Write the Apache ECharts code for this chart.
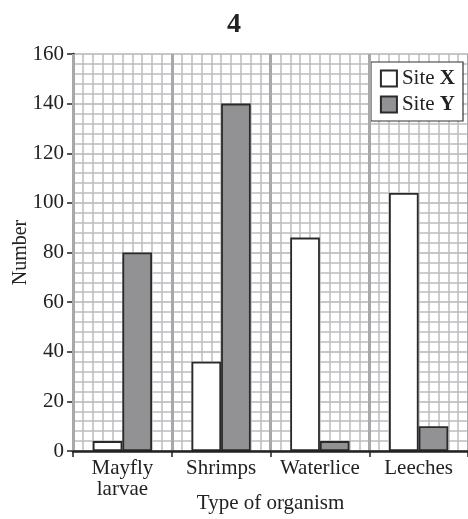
<!DOCTYPE html>
<html><head><meta charset="utf-8">
<script src="https://cdn.jsdelivr.net/npm/echarts@6/dist/echarts.min.js"></script>
<style>html,body{margin:0;padding:0;background:#fff}#c{width:468px;height:519px}</style>
</head><body><div id="c"></div>
<script>
const categories = ['Mayfly\nlarvae', 'Shrimps', 'Waterlice', 'Leeches'];
const siteX = [4, 36, 86, 104];
const siteY = [80, 140, 4, 10];
const seriesNames = ['Site X', 'Site Y'];

const FONT = 'Liberation Serif';
const chart = echarts.init(document.getElementById('c'), null, {renderer: 'canvas'});
chart.setOption({
  animation: false,
  backgroundColor: '#fff',
  title: {
    text: '4', left: 'center', top: 6,
    textStyle: {fontFamily: FONT, fontWeight: 'bold', fontSize: 28, color: '#222'}
  },
  legend: {
    data: seriesNames,
    orient: 'vertical',
    right: 5, top: 62,
    backgroundColor: '#fff',
    borderColor: '#333', borderWidth: 1.2,
    padding: [6, 8, 6, 9],
    icon: 'rect',
    itemWidth: 16, itemHeight: 16, itemGap: 5,
    formatter: function (n) { return 'Site {b|' + n.split(' ')[1] + '}'; },
    textStyle: {
      fontFamily: FONT, fontSize: 21, color: '#222',
      rich: {b: {fontFamily: FONT, fontSize: 21, fontWeight: 'bold', color: '#222'}}
    }
  },
  grid: {left: 73, top: 54, width: 395, height: 397, outerBoundsMode: 'none', containLabel: false},
  xAxis: [
    {
      type: 'category', data: categories,
      name: 'Type of organism', nameLocation: 'middle', nameGap: 42, nameMoveOverlap: false,
      nameTextStyle: {fontFamily: FONT, fontSize: 21, color: '#222'},
      axisLine: {lineStyle: {color: '#222', width: 2.5}},
      axisTick: {show: true, interval: 0, length: 6, lineStyle: {color: '#222', width: 1.5}},
      axisLabel: {interval: 0, fontFamily: FONT, fontSize: 21, color: '#222', margin: 7, lineHeight: 21},
      splitLine: {show: true, interval: 0, lineStyle: {color: '#a8a8aa', width: 3}},
      z: 5
    },
    {
      type: 'value', min: 0, max: 40, interval: 1, position: 'top',
      axisLine: {show: false}, axisTick: {show: false}, axisLabel: {show: false},
      splitLine: {show: true, lineStyle: {color: '#bdbdc0', width: 1.5}}
    }
  ],
  yAxis: {
    type: 'value', min: 0, max: 160, interval: 20,
    name: 'Number', nameLocation: 'middle', nameGap: 42, nameRotate: 90, nameMoveOverlap: false,
    nameTextStyle: {fontFamily: FONT, fontSize: 20, color: '#222'},
    axisLine: {show: true, lineStyle: {color: '#222', width: 2.5}},
    axisTick: {show: true, length: 6, lineStyle: {color: '#222', width: 1.5}},
    axisLabel: {fontFamily: FONT, fontSize: 21, color: '#222', margin: 9},
    splitLine: {show: true, lineStyle: {color: '#b4b4b6', width: 1.5}},
    minorTick: {show: false, splitNumber: 5},
    minorSplitLine: {show: true, lineStyle: {color: '#bdbdc0', width: 1.5}}
  },
  series: [
    {
      name: seriesNames[0], type: 'bar', data: siteX, xAxisIndex: 0,
      barWidth: '30%', barGap: '0%',
      itemStyle: {color: '#fff', borderColor: '#2a2a2a', borderWidth: 1.8},
      z: 3
    },
    {
      name: seriesNames[1], type: 'bar', data: siteY, xAxisIndex: 0,
      barWidth: '30%', barGap: '0%',
      itemStyle: {color: '#929295', borderColor: '#2a2a2a', borderWidth: 1.8},
      z: 3
    }
  ]
});
</script></body></html>
